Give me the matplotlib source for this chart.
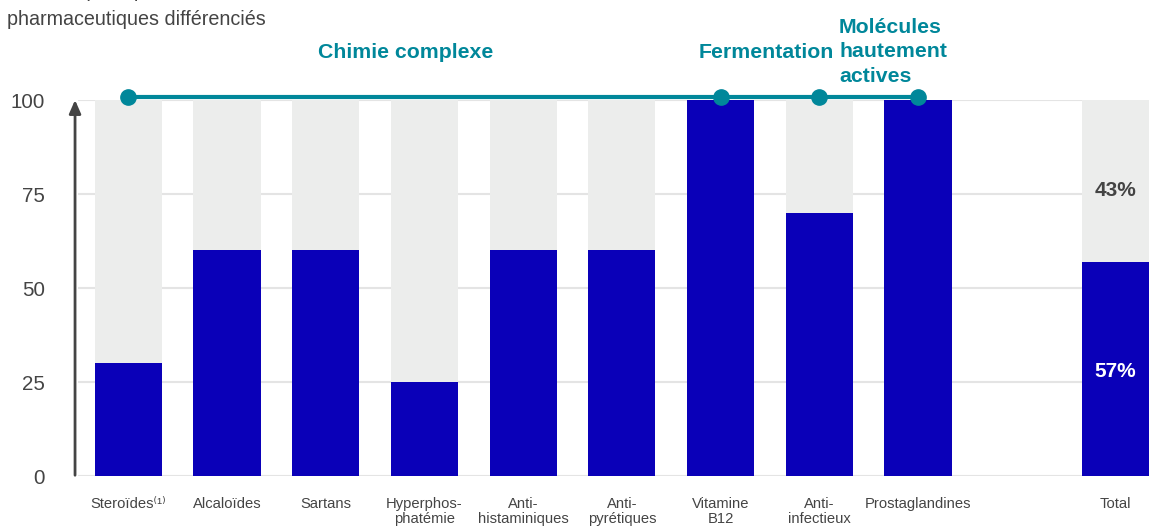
import numpy as np
from matplotlib import pyplot as plt

plt.rcParams['font.family'] = ['Liberation Sans', 'DejaVu Sans']

# parts en % par famille de molécules
categories = ['Steroïdes⁽¹⁾', 'Alcaloïdes', 'Sartans', 'Hyperphos-\nphatémie',
              'Anti-\nhistaminiques', 'Anti-\npyrétiques', 'Vitamine\nB12', 'Anti-\ninfectieux',
              'Prostaglandines', 'Total']
positions = [0, 1, 2, 3, 4, 5, 6, 7, 8, 10]
valeurs = [30, 60, 60, 25, 60, 60, 100, 70, 100, 57]
total_haut = 43
total_bas = 57
points_ligne = [0, 6, 7, 8]          # catégories marquées sur la ligne du haut

bleu = '#0A00B8'
gris = '#ECEDEC'
sarcelle = '#00879A'
texte = '#444444'

fig = plt.figure(figsize=(11.49, 5.29), dpi=100)
ax = fig.add_axes([78/1149, 1-476/529, 1-78/1149, (476-100)/529])

reste = [100 - v for v in valeurs]
ax.bar(positions, valeurs, width=0.68, color=bleu, zorder=2)
ax.bar(positions, reste, bottom=valeurs, width=0.68, color=gris, zorder=2)

ax.set_xlim(-0.51, 10.34)
ax.set_ylim(0, 100)
ax.set_yticks([0, 25, 50, 75, 100])
ax.yaxis.grid(True, color='#E4E4E4', linewidth=1.5, zorder=0)
ax.set_axisbelow(True)
for s in ax.spines.values():
    s.set_visible(False)
ax.tick_params(axis='y', length=0, pad=24, labelsize=14.8, labelcolor=texte)
ax.tick_params(axis='x', length=0, pad=15, labelsize=10.6, labelcolor=texte)
ax.set_xticks(positions)
ax.set_xticklabels(categories, linespacing=1.15)

# flèche verticale à gauche
ax.annotate('', xy=(-0.54, 100), xytext=(-0.54, 0.2), annotation_clip=False,
            arrowprops=dict(arrowstyle='-|>,head_width=0.35,head_length=0.8', color=texte, lw=2,
                            shrinkA=0, shrinkB=0))

# ligne des procédés
ax.plot([points_ligne[0], points_ligne[-1]], [100.8, 100.8], color=sarcelle, lw=3, clip_on=False, zorder=4)
ax.plot(points_ligne, [100.8]*len(points_ligne), 'o', color=sarcelle, ms=11, clip_on=False, zorder=5)

ax.text(2.81, 112.5, 'Chimie complexe', color=sarcelle, fontsize=15.3, fontweight='bold',
        ha='center', va='center')
ax.text(6.46, 112.5, 'Fermentation', color=sarcelle, fontsize=15.3, fontweight='bold',
        ha='center', va='center')
ax.text(7.20, 112.8, 'Molécules\nhautement\nactives', color=sarcelle, fontsize=15.3, fontweight='bold',
        ha='left', va='center', linespacing=1.36)

ax.text(10, 76, f'{total_haut}%', color=texte, fontsize=15, fontweight='bold', ha='center', va='center')
ax.text(10, 27.7, f'{total_bas}%', color='white', fontsize=15, fontweight='bold', ha='center', va='center')

# titre de l'axe, première ligne coupée par le bord
fig.text(7/1149, 1+3/529, 'Part des principes actifs', color=texte,
         fontsize=14.2, ha='left', va='baseline')
fig.text(7/1149, 1-25/529, 'pharmaceutiques différenciés', color=texte,
         fontsize=14.2, ha='left', va='baseline')

fig.savefig('out.png', dpi=100)
